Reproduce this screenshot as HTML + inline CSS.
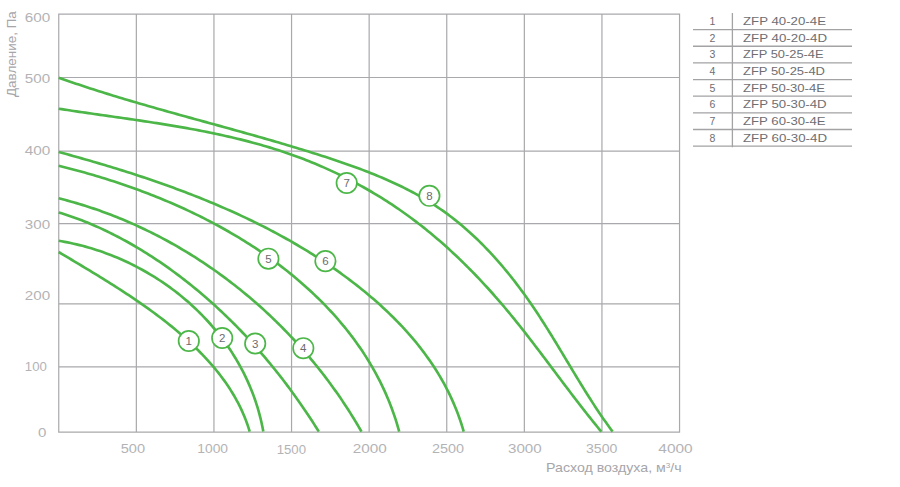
<!DOCTYPE html>
<html lang="ru"><head><meta charset="utf-8"><title>Chart</title>
<style>html,body{margin:0;padding:0;background:#fff;}body{width:900px;height:487px;overflow:hidden;font-family:"Liberation Sans",sans-serif;}svg{display:block;}</style></head>
<body>
<svg width="900" height="487" viewBox="0 0 900 487" font-family="'Liberation Sans', sans-serif">
<path d="M58.75 13.60 V432.80 M136.35 13.60 V432.80 M213.95 13.60 V432.80 M291.55 13.60 V432.80 M369.15 13.60 V432.80 M446.75 13.60 V432.80 M524.35 13.60 V432.80 M601.95 13.60 V432.80 M679.55 13.60 V432.80 M58.75 14.20 H679.55 M58.75 77.50 H679.55 M58.75 151.20 H679.55 M58.75 223.70 H679.55 M58.75 303.80 H679.55 M58.75 366.90 H679.55 M58.75 432.20 H679.55" stroke="#a9a9ad" stroke-width="1.2" fill="none"/>
<path d="M58.70 252.00L61.28 253.55L63.86 255.09L66.45 256.64L69.04 258.19L71.63 259.74L74.23 261.30L76.83 262.86L79.43 264.42L82.04 265.99L84.65 267.56L87.26 269.13L89.86 270.71L92.47 272.29L95.08 273.88L97.69 275.48L100.30 277.08L102.90 278.69L105.50 280.30L108.10 281.93L110.70 283.56L113.29 285.19L115.88 286.84L118.47 288.50L121.05 290.16L123.62 291.83L126.19 293.52L128.75 295.21L131.31 296.91L133.86 298.63L136.40 300.35L138.93 302.09L141.45 303.84L143.96 305.60L146.47 307.37L148.96 309.16L151.45 310.96L153.92 312.77L156.38 314.60L158.83 316.44L161.26 318.30L163.69 320.17L166.10 322.06L168.49 323.96L170.88 325.88L173.24 327.82L175.59 329.77L177.93 331.74L180.25 333.72L182.55 335.73L184.84 337.75L187.11 339.79L189.36 341.85L191.59 343.93L193.80 346.03L195.99 348.15L198.16 350.29L200.31 352.45L202.43 354.63L204.53 356.83L206.60 359.06L208.64 361.30L210.66 363.57L212.64 365.87L214.60 368.18L216.52 370.52L218.42 372.88L220.27 375.27L222.10 377.68L223.89 380.11L225.64 382.57L227.35 385.06L229.03 387.57L230.66 390.11L232.26 392.68L233.81 395.27L235.32 397.89L236.79 400.54L238.21 403.22L239.58 405.92L240.91 408.65L242.19 411.42L243.42 414.21L244.60 417.03L245.73 419.88L246.80 422.76L247.82 425.68L248.79 428.62L249.70 431.60" stroke="#4cb748" stroke-width="2.65" fill="none" stroke-linejoin="round"/>
<path d="M58.70 240.80L61.69 241.30L64.68 241.84L67.67 242.42L70.64 243.03L73.61 243.68L76.58 244.37L79.53 245.09L82.48 245.84L85.41 246.63L88.34 247.46L91.26 248.32L94.17 249.21L97.06 250.14L99.95 251.11L102.83 252.10L105.69 253.13L108.55 254.20L111.39 255.30L114.21 256.43L117.03 257.59L119.83 258.78L122.62 260.01L125.39 261.27L128.15 262.56L130.89 263.89L133.62 265.24L136.33 266.63L139.02 268.05L141.70 269.50L144.36 270.98L147.01 272.49L149.63 274.03L152.24 275.60L154.83 277.20L157.40 278.83L159.95 280.49L162.48 282.17L164.99 283.89L167.48 285.64L169.95 287.41L172.40 289.22L174.82 291.05L177.22 292.91L179.60 294.79L181.96 296.71L184.29 298.65L186.60 300.62L188.89 302.62L191.15 304.64L193.38 306.69L195.59 308.76L197.78 310.86L199.93 312.99L202.06 315.15L204.17 317.32L206.24 319.53L208.29 321.76L210.31 324.01L212.30 326.29L214.26 328.59L216.20 330.92L218.10 333.27L219.97 335.64L221.81 338.04L223.62 340.46L225.40 342.90L227.15 345.36L228.86 347.85L230.55 350.36L232.20 352.89L233.81 355.44L235.39 358.02L236.94 360.61L238.45 363.23L239.93 365.87L241.37 368.52L242.78 371.20L244.15 373.90L245.48 376.61L246.78 379.35L248.03 382.10L249.25 384.88L250.44 387.67L251.58 390.48L252.68 393.31L253.75 396.15L254.77 399.02L255.76 401.90L256.70 404.79L257.61 407.71L258.47 410.64L259.29 413.59L260.06 416.55L260.80 419.53L261.49 422.53L262.14 425.54L262.74 428.56L263.30 431.60" stroke="#4cb748" stroke-width="2.65" fill="none" stroke-linejoin="round"/>
<path d="M58.70 212.40L61.62 213.30L64.53 214.22L67.42 215.18L70.31 216.16L73.19 217.17L76.05 218.20L78.91 219.26L81.75 220.35L84.58 221.46L87.41 222.60L90.22 223.77L93.02 224.96L95.81 226.17L98.59 227.40L101.36 228.67L104.11 229.95L106.86 231.26L109.60 232.58L112.32 233.94L115.03 235.31L117.74 236.70L120.43 238.12L123.11 239.56L125.78 241.01L128.44 242.49L131.08 243.99L133.72 245.51L136.35 247.05L138.96 248.60L141.56 250.18L144.16 251.78L146.74 253.39L149.31 255.02L151.86 256.67L154.41 258.34L156.95 260.02L159.47 261.72L161.99 263.44L164.49 265.17L166.98 266.92L169.46 268.69L171.93 270.47L174.38 272.27L176.83 274.08L179.26 275.91L181.69 277.75L184.10 279.61L186.50 281.48L188.89 283.37L191.26 285.27L193.63 287.19L195.98 289.12L198.33 291.06L200.66 293.02L202.98 294.99L205.29 296.98L207.58 298.98L209.87 300.99L212.14 303.02L214.40 305.06L216.65 307.12L218.89 309.18L221.12 311.26L223.33 313.35L225.54 315.46L227.73 317.58L229.91 319.71L232.08 321.85L234.23 324.01L236.38 326.17L238.51 328.35L240.63 330.54L242.74 332.75L244.84 334.96L246.92 337.18L248.99 339.42L251.06 341.67L253.11 343.93L255.14 346.20L257.17 348.48L259.18 350.77L261.18 353.07L263.17 355.39L265.15 357.71L267.12 360.04L269.07 362.39L271.01 364.74L272.94 367.10L274.86 369.48L276.76 371.86L278.66 374.25L280.54 376.65L282.40 379.06L284.26 381.48L286.11 383.91L287.94 386.35L289.76 388.80L291.56 391.25L293.36 393.72L295.14 396.19L296.91 398.67L298.67 401.16L300.42 403.65L302.15 406.16L303.87 408.67L305.58 411.19L307.28 413.71L308.96 416.25L310.63 418.79L312.29 421.34L313.94 423.89L315.57 426.46L317.19 429.02L318.80 431.60" stroke="#4cb748" stroke-width="2.65" fill="none" stroke-linejoin="round"/>
<path d="M58.70 198.30L61.66 199.05L64.61 199.82L67.56 200.61L70.50 201.43L73.44 202.26L76.37 203.11L79.29 203.98L82.21 204.87L85.12 205.78L88.02 206.71L90.91 207.66L93.80 208.63L96.68 209.62L99.56 210.62L102.42 211.65L105.28 212.69L108.13 213.76L110.98 214.84L113.81 215.94L116.64 217.06L119.46 218.20L122.28 219.35L125.08 220.53L127.88 221.72L130.67 222.93L133.45 224.16L136.23 225.41L138.99 226.67L141.75 227.96L144.50 229.26L147.24 230.58L149.97 231.91L152.69 233.27L155.40 234.64L158.11 236.02L160.81 237.43L163.49 238.85L166.17 240.29L168.84 241.75L171.50 243.22L174.15 244.71L176.79 246.22L179.42 247.74L182.04 249.28L184.66 250.84L187.26 252.41L189.85 254.00L192.43 255.61L195.01 257.23L197.57 258.87L200.12 260.52L202.66 262.19L205.20 263.88L207.72 265.58L210.23 267.29L212.73 269.03L215.22 270.77L217.70 272.54L220.17 274.31L222.63 276.11L225.07 277.92L227.51 279.74L229.94 281.58L232.35 283.43L234.75 285.30L237.14 287.18L239.52 289.08L241.89 290.99L244.25 292.92L246.59 294.86L248.93 296.81L251.25 298.78L253.56 300.76L255.86 302.76L258.14 304.77L260.42 306.79L262.68 308.83L264.93 310.88L267.17 312.95L269.39 315.03L271.60 317.12L273.80 319.23L275.99 321.34L278.16 323.48L280.32 325.62L282.47 327.78L284.61 329.95L286.73 332.13L288.84 334.33L290.93 336.54L293.02 338.76L295.09 340.99L297.14 343.24L299.18 345.50L301.21 347.77L303.23 350.05L305.23 352.35L307.21 354.65L309.19 356.97L311.15 359.30L313.09 361.64L315.02 364.00L316.94 366.36L318.84 368.74L320.73 371.12L322.60 373.52L324.46 375.93L326.31 378.35L328.13 380.79L329.95 383.23L331.75 385.68L333.53 388.15L335.30 390.62L337.06 393.11L338.80 395.60L340.52 398.11L342.23 400.63L343.92 403.15L345.60 405.69L347.26 408.24L348.91 410.80L350.54 413.36L352.15 415.94L353.75 418.53L355.33 421.12L356.90 423.73L358.45 426.34L359.98 428.97L361.50 431.60" stroke="#4cb748" stroke-width="2.65" fill="none" stroke-linejoin="round"/>
<path d="M58.70 165.80L61.58 166.50L64.46 167.22L67.34 167.95L70.23 168.69L73.12 169.44L76.00 170.21L78.89 170.99L81.78 171.78L84.67 172.58L87.56 173.40L90.46 174.22L93.35 175.07L96.24 175.92L99.13 176.79L102.03 177.67L104.92 178.56L107.81 179.47L110.70 180.39L113.58 181.32L116.47 182.27L119.36 183.23L122.24 184.20L125.12 185.19L128.00 186.19L130.88 187.20L133.75 188.23L136.62 189.27L139.49 190.32L142.35 191.39L145.22 192.47L148.07 193.57L150.93 194.67L153.78 195.80L156.62 196.93L159.46 198.08L162.30 199.25L165.13 200.42L167.96 201.62L170.78 202.82L173.60 204.04L176.41 205.28L179.21 206.53L182.01 207.79L184.80 209.07L187.59 210.36L190.36 211.67L193.14 212.99L195.90 214.32L198.66 215.67L201.41 217.04L204.15 218.42L206.88 219.81L209.61 221.22L212.33 222.64L215.03 224.08L217.73 225.54L220.43 227.00L223.11 228.49L225.78 229.99L228.44 231.50L231.10 233.03L233.74 234.57L236.37 236.13L239.00 237.70L241.61 239.29L244.21 240.90L246.80 242.52L249.38 244.15L251.95 245.81L254.50 247.47L257.05 249.16L259.58 250.85L262.10 252.57L264.61 254.30L267.10 256.04L269.58 257.80L272.05 259.58L274.51 261.37L276.95 263.18L279.38 265.01L281.79 266.85L284.20 268.71L286.58 270.58L288.95 272.47L291.31 274.37L293.65 276.30L295.98 278.24L298.29 280.19L300.59 282.16L302.87 284.15L305.14 286.15L307.38 288.17L309.62 290.21L311.83 292.27L314.03 294.34L316.21 296.42L318.38 298.53L320.53 300.65L322.65 302.79L324.76 304.94L326.85 307.11L328.93 309.30L330.98 311.51L333.01 313.73L335.03 315.97L337.02 318.23L338.99 320.50L340.94 322.79L342.87 325.09L344.78 327.42L346.67 329.76L348.54 332.12L350.38 334.49L352.20 336.89L354.00 339.30L355.77 341.72L357.52 344.17L359.24 346.63L360.95 349.11L362.62 351.60L364.28 354.12L365.90 356.65L367.51 359.19L369.08 361.76L370.63 364.34L372.15 366.94L373.65 369.56L375.12 372.19L376.56 374.85L377.98 377.52L379.36 380.20L380.72 382.91L382.05 385.63L383.35 388.37L384.63 391.13L385.87 393.90L387.08 396.70L388.27 399.51L389.42 402.34L390.54 405.18L391.63 408.05L392.69 410.93L393.72 413.83L394.71 416.75L395.68 419.68L396.61 422.64L397.51 425.61L398.37 428.60L399.20 431.60" stroke="#4cb748" stroke-width="2.65" fill="none" stroke-linejoin="round"/>
<path d="M58.70 152.00L61.57 152.78L64.44 153.56L67.30 154.34L70.18 155.14L73.05 155.93L75.92 156.74L78.80 157.54L81.67 158.36L84.55 159.17L87.43 160.00L90.31 160.83L93.19 161.67L96.07 162.51L98.95 163.36L101.83 164.21L104.71 165.07L107.59 165.94L110.47 166.81L113.35 167.69L116.23 168.58L119.11 169.47L121.99 170.37L124.87 171.28L127.75 172.19L130.63 173.11L133.51 174.04L136.38 174.97L139.26 175.92L142.13 176.87L145.00 177.83L147.87 178.79L150.74 179.76L153.60 180.75L156.47 181.73L159.33 182.73L162.19 183.74L165.05 184.75L167.91 185.77L170.76 186.80L173.61 187.84L176.46 188.89L179.30 189.95L182.14 191.01L184.98 192.09L187.82 193.17L190.65 194.26L193.48 195.36L196.30 196.47L199.12 197.59L201.94 198.72L204.75 199.86L207.56 201.01L210.37 202.17L213.17 203.34L215.97 204.52L218.76 205.71L221.55 206.91L224.33 208.12L227.11 209.34L229.88 210.57L232.65 211.81L235.41 213.06L238.17 214.32L240.92 215.59L243.67 216.88L246.41 218.17L249.14 219.48L251.87 220.80L254.59 222.12L257.31 223.46L260.02 224.82L262.72 226.18L265.42 227.55L268.11 228.94L270.79 230.34L273.47 231.75L276.14 233.17L278.80 234.61L281.46 236.05L284.11 237.51L286.75 238.99L289.38 240.47L292.01 241.97L294.62 243.48L297.23 245.00L299.83 246.54L302.43 248.09L305.01 249.65L307.59 251.22L310.16 252.81L312.72 254.41L315.27 256.03L317.81 257.66L320.34 259.30L322.87 260.96L325.38 262.63L327.89 264.31L330.38 266.01L332.87 267.72L335.34 269.45L337.81 271.19L340.27 272.95L342.71 274.72L345.15 276.51L347.58 278.31L349.99 280.12L352.40 281.95L354.79 283.80L357.17 285.66L359.55 287.53L361.91 289.42L364.25 291.33L366.59 293.25L368.91 295.19L371.21 297.14L373.51 299.11L375.78 301.09L378.05 303.10L380.29 305.11L382.52 307.15L384.74 309.20L386.94 311.26L389.12 313.34L391.28 315.44L393.42 317.56L395.55 319.69L397.65 321.84L399.74 324.01L401.80 326.19L403.85 328.39L405.87 330.61L407.88 332.84L409.86 335.10L411.82 337.37L413.75 339.66L415.67 341.96L417.56 344.29L419.42 346.63L421.26 348.99L423.08 351.36L424.87 353.76L426.63 356.17L428.37 358.61L430.08 361.06L431.77 363.53L433.42 366.02L435.05 368.52L436.65 371.05L438.22 373.59L439.76 376.16L441.27 378.74L442.75 381.35L444.20 383.97L445.62 386.61L447.01 389.27L448.36 391.95L449.69 394.65L450.97 397.37L452.23 400.11L453.45 402.87L454.64 405.65L455.79 408.45L456.91 411.27L457.99 414.12L459.04 416.98L460.05 419.86L461.02 422.76L461.95 425.69L462.85 428.63L463.71 431.60" stroke="#4cb748" stroke-width="2.65" fill="none" stroke-linejoin="round"/>
<path d="M58.70 108.70L61.64 109.16L64.58 109.61L67.52 110.06L70.47 110.50L73.42 110.94L76.37 111.38L79.33 111.82L82.29 112.25L85.25 112.68L88.22 113.11L91.19 113.54L94.16 113.97L97.14 114.39L100.11 114.82L103.09 115.24L106.07 115.67L109.06 116.09L112.04 116.52L115.03 116.94L118.02 117.37L121.01 117.80L124.00 118.23L126.99 118.66L129.98 119.10L132.98 119.54L135.97 119.98L138.97 120.42L141.96 120.87L144.96 121.32L147.96 121.77L150.95 122.23L153.95 122.69L156.95 123.16L159.94 123.64L162.94 124.11L165.93 124.60L168.93 125.09L171.92 125.59L174.91 126.09L177.91 126.60L180.90 127.12L183.89 127.64L186.87 128.17L189.86 128.71L192.84 129.26L195.82 129.82L198.80 130.39L201.78 130.96L204.76 131.55L207.73 132.14L210.70 132.75L213.67 133.36L216.63 133.99L219.60 134.62L222.55 135.27L225.51 135.93L228.46 136.60L231.41 137.28L234.35 137.98L237.30 138.69L240.23 139.41L243.17 140.14L246.10 140.89L249.02 141.65L251.94 142.42L254.86 143.21L257.77 144.02L260.67 144.84L263.57 145.67L266.47 146.52L269.36 147.39L272.24 148.27L275.12 149.17L278.00 150.08L280.87 151.01L283.73 151.96L286.58 152.93L289.43 153.91L292.28 154.91L295.11 155.93L297.94 156.97L300.77 158.03L303.58 159.10L306.39 160.20L309.20 161.31L311.99 162.44L314.78 163.58L317.56 164.75L320.33 165.93L323.10 167.13L325.86 168.35L328.60 169.59L331.34 170.84L334.08 172.11L336.80 173.40L339.52 174.71L342.22 176.03L344.92 177.37L347.61 178.73L350.29 180.11L352.96 181.50L355.62 182.92L358.27 184.34L360.91 185.79L363.54 187.25L366.16 188.73L368.78 190.23L371.38 191.74L373.97 193.28L376.55 194.82L379.12 196.39L381.68 197.97L384.23 199.57L386.76 201.19L389.29 202.82L391.80 204.47L394.31 206.14L396.80 207.82L399.28 209.52L401.75 211.24L404.20 212.97L406.65 214.72L409.08 216.49L411.50 218.27L413.91 220.07L416.30 221.88L418.69 223.71L421.06 225.55L423.42 227.41L425.77 229.29L428.10 231.18L430.43 233.09L432.74 235.01L435.04 236.94L437.34 238.89L439.61 240.85L441.88 242.83L444.14 244.82L446.38 246.83L448.62 248.84L450.84 250.87L453.05 252.92L455.26 254.98L457.45 257.04L459.62 259.13L461.79 261.22L463.95 263.33L466.10 265.45L468.23 267.58L470.36 269.72L472.47 271.87L474.58 274.04L476.67 276.21L478.75 278.40L480.83 280.60L482.89 282.81L484.94 285.03L486.99 287.26L489.02 289.50L491.04 291.75L493.05 294.00L495.05 296.27L497.05 298.55L499.03 300.84L501.00 303.13L502.96 305.44L504.92 307.75L506.86 310.07L508.80 312.40L510.72 314.74L512.64 317.09L514.55 319.44L516.45 321.80L518.34 324.16L520.23 326.53L522.11 328.91L523.99 331.29L525.85 333.68L527.72 336.07L529.57 338.47L531.43 340.87L533.27 343.27L535.11 345.68L536.95 348.09L538.79 350.50L540.62 352.91L542.45 355.33L544.27 357.75L546.10 360.17L547.92 362.59L549.74 365.01L551.55 367.43L553.37 369.85L555.19 372.27L557.00 374.68L558.82 377.10L560.63 379.52L562.45 381.93L564.26 384.35L566.08 386.76L567.90 389.16L569.72 391.57L571.55 393.97L573.37 396.36L575.20 398.75L577.04 401.14L578.87 403.52L580.71 405.90L582.55 408.27L584.40 410.64L586.26 413.00L588.11 415.35L589.98 417.69L591.85 420.03L593.72 422.36L595.61 424.69L597.50 427.00L599.39 429.30L601.30 431.60" stroke="#4cb748" stroke-width="2.65" fill="none" stroke-linejoin="round"/>
<path d="M58.70 77.70L61.56 78.71L64.43 79.71L67.29 80.71L70.16 81.69L73.03 82.67L75.90 83.64L78.77 84.61L81.64 85.56L84.51 86.51L87.39 87.46L90.26 88.39L93.14 89.32L96.02 90.24L98.90 91.16L101.78 92.07L104.66 92.97L107.54 93.87L110.43 94.77L113.31 95.65L116.20 96.53L119.09 97.41L121.98 98.28L124.86 99.15L127.75 100.01L130.65 100.87L133.54 101.72L136.43 102.57L139.32 103.42L142.22 104.26L145.11 105.10L148.01 105.93L150.91 106.76L153.80 107.59L156.70 108.42L159.60 109.24L162.50 110.06L165.40 110.88L168.30 111.69L171.20 112.50L174.11 113.32L177.01 114.12L179.91 114.93L182.81 115.74L185.72 116.54L188.62 117.35L191.53 118.15L194.43 118.95L197.34 119.75L200.24 120.55L203.15 121.35L206.06 122.15L208.96 122.95L211.87 123.75L214.78 124.55L217.68 125.35L220.59 126.15L223.50 126.96L226.41 127.76L229.31 128.56L232.22 129.37L235.13 130.18L238.04 130.99L240.95 131.80L243.85 132.61L246.76 133.43L249.67 134.24L252.58 135.06L255.48 135.89L258.39 136.71L261.30 137.54L264.20 138.37L267.11 139.21L270.02 140.04L272.92 140.89L275.83 141.73L278.74 142.58L281.64 143.44L284.55 144.30L287.45 145.16L290.35 146.03L293.26 146.90L296.16 147.78L299.06 148.66L301.96 149.55L304.87 150.44L307.77 151.34L310.67 152.24L313.57 153.15L316.47 154.07L319.36 154.99L322.26 155.92L325.16 156.86L328.05 157.80L330.95 158.76L333.84 159.71L336.73 160.68L339.62 161.66L342.50 162.65L345.38 163.65L348.25 164.65L351.12 165.67L353.99 166.70L356.85 167.75L359.70 168.80L362.55 169.87L365.39 170.96L368.22 172.06L371.04 173.17L373.86 174.30L376.67 175.44L379.46 176.60L382.25 177.78L385.03 178.97L387.80 180.19L390.56 181.42L393.30 182.67L396.04 183.94L398.76 185.22L401.47 186.53L404.17 187.86L406.85 189.22L409.52 190.59L412.17 191.99L414.81 193.41L417.43 194.85L420.04 196.32L422.63 197.81L425.21 199.33L427.77 200.87L430.31 202.44L432.83 204.03L435.33 205.65L437.82 207.30L440.28 208.98L442.73 210.68L445.16 212.42L447.57 214.18L449.96 215.96L452.33 217.78L454.68 219.61L457.01 221.48L459.33 223.36L461.62 225.28L463.90 227.21L466.16 229.17L468.40 231.16L470.63 233.16L472.83 235.19L475.02 237.24L477.19 239.31L479.34 241.41L481.48 243.52L483.60 245.65L485.70 247.81L487.79 249.98L489.85 252.17L491.90 254.38L493.94 256.61L495.96 258.85L497.96 261.11L499.94 263.39L501.91 265.69L503.87 268.00L505.80 270.32L507.72 272.66L509.63 275.02L511.52 277.39L513.39 279.77L515.25 282.17L517.10 284.58L518.93 287.00L520.74 289.44L522.54 291.88L524.32 294.34L526.09 296.81L527.85 299.28L529.59 301.77L531.32 304.27L533.03 306.77L534.73 309.29L536.41 311.81L538.08 314.34L539.74 316.88L541.39 319.42L543.03 321.97L544.66 324.53L546.28 327.09L547.89 329.66L549.49 332.23L551.09 334.81L552.68 337.39L554.26 339.97L555.84 342.56L557.41 345.14L558.98 347.74L560.54 350.33L562.10 352.92L563.66 355.52L565.22 358.11L566.78 360.71L568.33 363.30L569.89 365.89L571.45 368.49L573.01 371.08L574.57 373.66L576.13 376.25L577.70 378.83L579.27 381.41L580.85 383.99L582.43 386.56L584.02 389.12L585.62 391.68L587.22 394.24L588.83 396.79L590.45 399.33L592.08 401.87L593.72 404.40L595.37 406.92L597.03 409.43L598.70 411.93L600.39 414.43L602.09 416.91L603.80 419.39L605.53 421.85L607.27 424.31L609.03 426.75L610.81 429.18L612.60 431.60" stroke="#4cb748" stroke-width="2.65" fill="none" stroke-linejoin="round"/>
<circle cx="188.80" cy="341.00" r="10.2" fill="#fff" stroke="#4cb748" stroke-width="1.7"/>
<text x="188.80" y="345.10" font-size="11.5" fill="#6b6b70" text-anchor="middle">1</text>
<circle cx="222.20" cy="338.00" r="10.2" fill="#fff" stroke="#4cb748" stroke-width="1.7"/>
<text x="222.20" y="342.10" font-size="11.5" fill="#6b6b70" text-anchor="middle">2</text>
<circle cx="255.20" cy="343.50" r="10.2" fill="#fff" stroke="#4cb748" stroke-width="1.7"/>
<text x="255.20" y="347.60" font-size="11.5" fill="#6b6b70" text-anchor="middle">3</text>
<circle cx="303.30" cy="348.20" r="10.2" fill="#fff" stroke="#4cb748" stroke-width="1.7"/>
<text x="303.30" y="352.30" font-size="11.5" fill="#6b6b70" text-anchor="middle">4</text>
<circle cx="268.40" cy="258.70" r="10.2" fill="#fff" stroke="#4cb748" stroke-width="1.7"/>
<text x="268.40" y="262.80" font-size="11.5" fill="#6b6b70" text-anchor="middle">5</text>
<circle cx="325.40" cy="261.10" r="10.2" fill="#fff" stroke="#4cb748" stroke-width="1.7"/>
<text x="325.40" y="265.20" font-size="11.5" fill="#6b6b70" text-anchor="middle">6</text>
<circle cx="346.70" cy="183.00" r="10.2" fill="#fff" stroke="#4cb748" stroke-width="1.7"/>
<text x="346.70" y="187.10" font-size="11.5" fill="#6b6b70" text-anchor="middle">7</text>
<circle cx="429.40" cy="195.80" r="10.2" fill="#fff" stroke="#4cb748" stroke-width="1.7"/>
<text x="429.40" y="199.90" font-size="11.5" fill="#6b6b70" text-anchor="middle">8</text>
<text x="24.80" y="22.10" font-size="12" fill="#b3b3b6" text-anchor="start" textLength="25.5" lengthAdjust="spacingAndGlyphs">600</text>
<text x="24.80" y="82.70" font-size="12" fill="#b3b3b6" text-anchor="start" textLength="25.3" lengthAdjust="spacingAndGlyphs">500</text>
<text x="24.80" y="154.90" font-size="12" fill="#b3b3b6" text-anchor="start" textLength="25.6" lengthAdjust="spacingAndGlyphs">400</text>
<text x="24.80" y="228.90" font-size="12" fill="#b3b3b6" text-anchor="start" textLength="25.3" lengthAdjust="spacingAndGlyphs">300</text>
<text x="24.80" y="299.90" font-size="12" fill="#b3b3b6" text-anchor="start" textLength="25.3" lengthAdjust="spacingAndGlyphs">200</text>
<text x="24.80" y="370.60" font-size="12" fill="#b3b3b6" text-anchor="start" textLength="22.0" lengthAdjust="spacingAndGlyphs">100</text>
<text x="38.00" y="436.70" font-size="12" fill="#b3b3b6" text-anchor="start" textLength="8.4" lengthAdjust="spacingAndGlyphs">0</text>
<text x="120.70" y="452.60" font-size="12" fill="#b3b3b6" text-anchor="start" textLength="24.3" lengthAdjust="spacingAndGlyphs">500</text>
<text x="197.30" y="452.60" font-size="12" fill="#b3b3b6" text-anchor="start" textLength="30.7" lengthAdjust="spacingAndGlyphs">1000</text>
<text x="276.70" y="453.60" font-size="12" fill="#b3b3b6" text-anchor="start" textLength="29.3" lengthAdjust="spacingAndGlyphs">1500</text>
<text x="352.70" y="452.60" font-size="12" fill="#b3b3b6" text-anchor="start" textLength="34.0" lengthAdjust="spacingAndGlyphs">2000</text>
<text x="432.00" y="452.60" font-size="12" fill="#b3b3b6" text-anchor="start" textLength="32.0" lengthAdjust="spacingAndGlyphs">2500</text>
<text x="508.00" y="452.60" font-size="12" fill="#b3b3b6" text-anchor="start" textLength="33.7" lengthAdjust="spacingAndGlyphs">3000</text>
<text x="586.00" y="452.60" font-size="12" fill="#b3b3b6" text-anchor="start" textLength="31.3" lengthAdjust="spacingAndGlyphs">3500</text>
<text x="658.30" y="452.60" font-size="12" fill="#b3b3b6" text-anchor="start" textLength="34.4" lengthAdjust="spacingAndGlyphs">4000</text>
<text x="546.00" y="472.10" font-size="13" fill="#a6a6aa" text-anchor="start" textLength="135.7" lengthAdjust="spacingAndGlyphs">Расход воздуха, м<tspan dy="-4" font-size="7.5">3</tspan><tspan dy="4">/ч</tspan></text>
<g transform="translate(15.8 97) rotate(-90)"><text x="0.00" y="0.00" font-size="13" fill="#a6a6aa" text-anchor="start" textLength="85.8" lengthAdjust="spacingAndGlyphs">Давление, Па</text></g>
<path d="M693 29.60 H852 M693 46.25 H852 M693 62.90 H852 M693 79.55 H852 M693 96.20 H852 M693 112.85 H852 M693 129.50 H852 M693 146.15 H852 M732.4 13 V147.2" stroke="#a3a3a6" stroke-width="1.3" fill="none"/>
<text x="712.40" y="25.00" font-size="10.5" fill="#6e6e72" text-anchor="middle">1</text>
<text x="743.00" y="25.00" font-size="10.5" fill="#6e6e72" text-anchor="start" textLength="83.0" lengthAdjust="spacingAndGlyphs">ZFP 40-20-4E</text>
<text x="712.40" y="41.65" font-size="10.5" fill="#6e6e72" text-anchor="middle">2</text>
<text x="743.00" y="41.65" font-size="10.5" fill="#6e6e72" text-anchor="start" textLength="84.0" lengthAdjust="spacingAndGlyphs">ZFP 40-20-4D</text>
<text x="712.40" y="58.30" font-size="10.5" fill="#6e6e72" text-anchor="middle">3</text>
<text x="743.00" y="58.30" font-size="10.5" fill="#6e6e72" text-anchor="start" textLength="80.6" lengthAdjust="spacingAndGlyphs">ZFP 50-25-4E</text>
<text x="712.40" y="74.95" font-size="10.5" fill="#6e6e72" text-anchor="middle">4</text>
<text x="743.00" y="74.95" font-size="10.5" fill="#6e6e72" text-anchor="start" textLength="82.0" lengthAdjust="spacingAndGlyphs">ZFP 50-25-4D</text>
<text x="712.40" y="91.60" font-size="10.5" fill="#6e6e72" text-anchor="middle">5</text>
<text x="743.00" y="91.60" font-size="10.5" fill="#6e6e72" text-anchor="start" textLength="82.0" lengthAdjust="spacingAndGlyphs">ZFP 50-30-4E</text>
<text x="712.40" y="108.25" font-size="10.5" fill="#6e6e72" text-anchor="middle">6</text>
<text x="743.00" y="108.25" font-size="10.5" fill="#6e6e72" text-anchor="start" textLength="83.6" lengthAdjust="spacingAndGlyphs">ZFP 50-30-4D</text>
<text x="712.40" y="124.90" font-size="10.5" fill="#6e6e72" text-anchor="middle">7</text>
<text x="743.00" y="124.90" font-size="10.5" fill="#6e6e72" text-anchor="start" textLength="82.6" lengthAdjust="spacingAndGlyphs">ZFP 60-30-4E</text>
<text x="712.40" y="141.55" font-size="10.5" fill="#6e6e72" text-anchor="middle">8</text>
<text x="743.00" y="141.55" font-size="10.5" fill="#6e6e72" text-anchor="start" textLength="84.0" lengthAdjust="spacingAndGlyphs">ZFP 60-30-4D</text>
</svg>
</body></html>
